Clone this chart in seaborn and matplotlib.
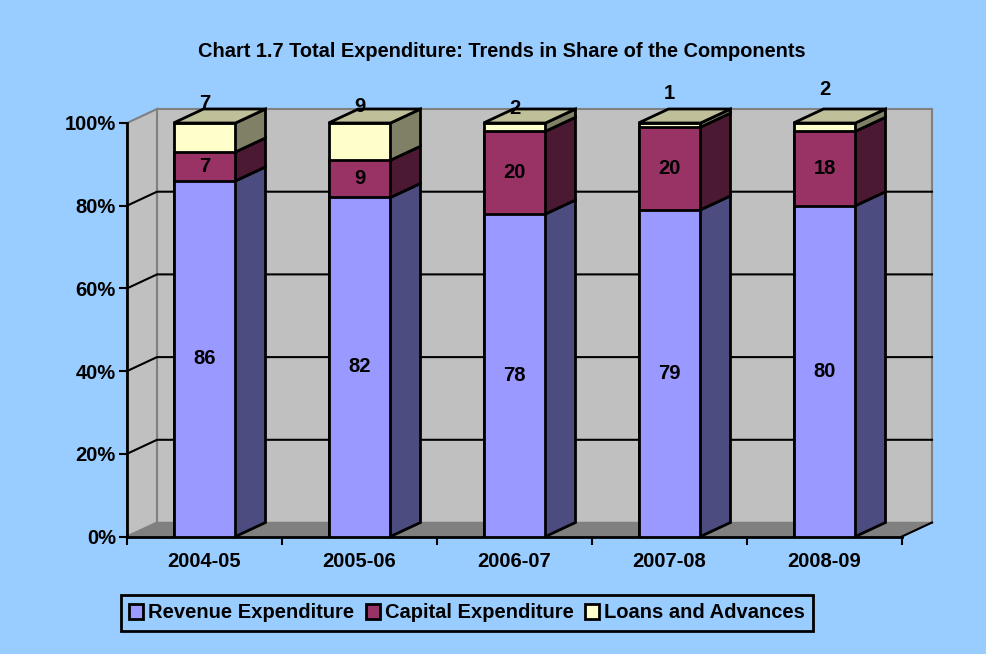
import matplotlib
matplotlib.use("Agg")
import matplotlib.pyplot as plt
from matplotlib.patches import Polygon, Patch
import numpy as np
import pandas as pd
import seaborn as sns

# data (% share)
years = ["2004-05", "2005-06", "2006-07", "2007-08", "2008-09"]
revenue = [86, 82, 78, 79, 80]
capital = [7, 9, 20, 20, 18]
loans = [7, 9, 2, 1, 2]
series_names = ["Revenue Expenditure", "Capital Expenditure", "Loans and Advances"]

# how far above the column top each loans label sits (% units)
loans_label_lift = [4.6, 4.1, 3.6, 7.2, 8.2]

plt.rcParams['font.family'] = ['Liberation Sans', 'DejaVu Sans']
plt.rcParams['font.weight'] = 'bold'
plt.rcParams['font.size'] = 14.5

bg = '#99CCFF'
wall = '#C0C0C0'
floor_c = '#808080'
front_cols = ['#9999FF', '#993366', '#FFFFCC']
side_cols = ['#4C4C80', '#4C1933', '#808066']
top_col = '#BFBF99'
lw = 2

df = pd.DataFrame({'year': years, 'rev': revenue, 'cap': capital, 'loan': loans})
df['rev_cap'] = df['rev'] + df['cap']
df['total'] = df['rev_cap'] + df['loan']

fig = plt.figure(figsize=(9.87, 6.54), dpi=100, facecolor=bg)
ax = fig.add_axes([127 / 987, (654 - 536.5) / 654, 775 / 987, 413.5 / 654])
ax.set_facecolor('none')

# fake 3d depth: 30px right, 14px up
dx = 30 / 155
dy = 14 / 4.135

# stacked fronts, tallest layer first so the others sit on top of it
for col, c in [('total', front_cols[2]), ('rev_cap', front_cols[1]), ('rev', front_cols[0])]:
    sns.barplot(data=df, x='year', y=col, color=c, saturation=1, width=0.4,
                edgecolor='black', linewidth=lw, errorbar=None, ax=ax, zorder=3)

bars = list(ax.patches[:5])
xs = [p.get_x() for p in bars]
ws = [p.get_width() for p in bars]

ax.set_xlim(-0.5, 4.5)
ax.set_ylim(0, 100)
x0, x1 = -0.5, 4.5

# walls and floor
ax.add_patch(Polygon([(x0 + dx, dy), (x1 + dx, dy), (x1 + dx, 100 + dy), (x0 + dx, 100 + dy)],
                     closed=True, fc=wall, ec=floor_c, lw=1.5, clip_on=False, zorder=0))
ax.add_patch(Polygon([(x0, 0), (x0 + dx, dy), (x0 + dx, 100 + dy), (x0, 100)],
                     closed=True, fc=wall, ec=floor_c, lw=1.5, clip_on=False, zorder=0))
ax.add_patch(Polygon([(x0, 0), (x1, 0), (x1 + dx, dy), (x0 + dx, dy)],
                     closed=True, fc=floor_c, ec=floor_c, lw=1, clip_on=False, zorder=0.5))
for v in [20, 40, 60, 80]:
    ax.plot([x0, x0 + dx, x1 + dx], [v, v + dy, v + dy], color='black', lw=1.5,
            clip_on=False, zorder=1)
ax.plot([x1, x1 + dx], [0, dy], color='black', lw=1.5, clip_on=False, zorder=1)

# side and top faces of the columns
lows = [np.zeros(5), df['rev'].values, df['rev_cap'].values]
highs = [df['rev'].values, df['rev_cap'].values, df['total'].values]
for i in range(5):
    x, r = xs[i], xs[i] + ws[i]
    for lo, hi, c in zip(lows, highs, side_cols):
        b, t = lo[i], hi[i]
        ax.add_patch(Polygon([(r, b), (r + dx, b + dy), (r + dx, t + dy), (r, t)],
                             closed=True, fc=c, ec='black', lw=lw, clip_on=False, zorder=3))
    T = highs[2][i]
    ax.add_patch(Polygon([(x, T), (r, T), (r + dx, T + dy), (x + dx, T + dy)],
                         closed=True, fc=top_col, ec='black', lw=lw, clip_on=False, zorder=3))

    cx = x + ws[i] / 2
    ax.text(cx, revenue[i] / 2, str(revenue[i]), ha='center', va='center', zorder=5)
    ax.text(cx, revenue[i] + capital[i] / 2, str(capital[i]), ha='center', va='center', zorder=5)
    ax.text(cx, T + loans_label_lift[i], str(loans[i]), ha='center', va='center', zorder=5)

# axes
ax.set_xlabel('')
ax.set_ylabel('')
ax.set_yticks(range(0, 101, 20))
ax.set_yticklabels([f'{v}%' for v in range(0, 101, 20)])
ax.set_xticks(np.arange(-0.5, 5, 1))
ax.set_xticklabels([])
ax.set_xticks(range(5), minor=True)
ax.set_xticklabels(years, minor=True)
ax.tick_params(axis='x', which='major', direction='out', length=6, width=1.5, color='black')
ax.tick_params(axis='x', which='minor', length=0, pad=11)
ax.tick_params(axis='y', direction='out', length=6, width=1.5, pad=2, color='black')
for s in ['top', 'right']:
    ax.spines[s].set_visible(False)
for s in ['left', 'bottom']:
    ax.spines[s].set_linewidth(lw)
    ax.spines[s].set_color('black')

fig.text(502 / 987, 1 - 57 / 654,
         'Chart 1.7 Total Expenditure: Trends in Share of the Components',
         ha='center', va='baseline', fontsize=14.4, fontweight='bold')

handles = [Patch(fc=c, ec='black', lw=lw) for c in front_cols]
leg = fig.legend(handles, series_names, loc='center',
                 bbox_to_anchor=(467 / 987, 1 - 613 / 654), ncol=3, frameon=True,
                 fancybox=False, handlelength=0.7, handleheight=0.7, handletextpad=0.25,
                 columnspacing=0.55, borderpad=0.42, facecolor=bg, edgecolor='black',
                 framealpha=1, prop={'weight': 'bold', 'size': 14.5})
leg.get_frame().set_linewidth(2)

fig.savefig('out.png', dpi=100, facecolor=bg)
